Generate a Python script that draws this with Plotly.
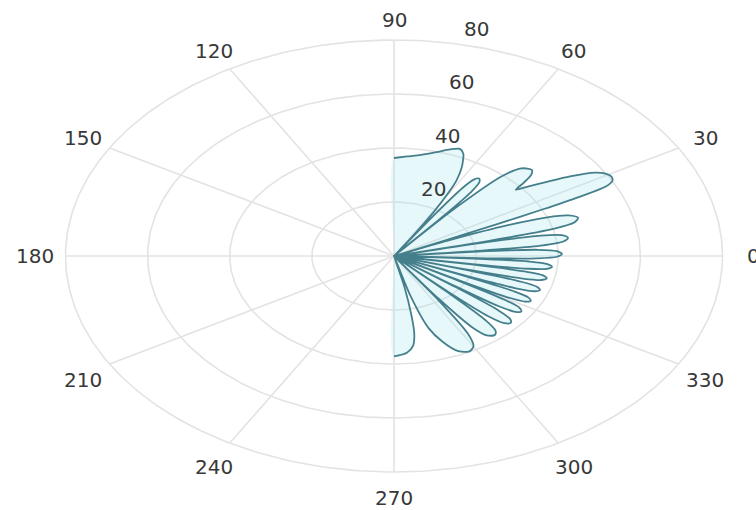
import numpy as np
import plotly.graph_objects as go

# Radiation pattern samples: angle in degrees, magnitude on the radial scale
pattern_deg = [
    90, 85, 80, 75, 71, 68, 66, 64.5, 63.2, 61.5, 60.5, 59.3, 58.3, 57.5,
    57.24, 56.51, 55.52, 54.2, 52.72, 51.61, 50.8, 50.5,
    49.94, 48.4, 46.3, 43.5, 42.0, 40.6, 39.6,
    38.3, 36.5, 34.5, 32.3, 30.5, 29.0, 27.6, 26.5, 25.9, 25.5, 25.2, 24.9, 24.5,
    23.5, 22.4, 21.0, 19.5, 17.5, 15.78, 14.49, 13.54, 13.2,
    12.86, 11.94, 10.68, 9.0, 7.4, 6.2, 5.32, 5.0,
    4.68, 3.8, 2.6, 1.0, -0.4, -1.45, -2.22, -2.5,
    -2.78, -3.55, -4.6, -6.0, -7.28, -8.24, -8.94, -9.2,
    -9.46, -10.19, -11.18, -12.5, -13.9, -14.95, -15.72, -16.0,
    -16.28, -17.05, -18.1, -19.5, -20.9, -21.95, -22.72, -23.0,
    -23.28, -24.05, -25.1, -26.5, -27.9, -28.95, -29.72, -30.0,
    -30.28, -31.05, -32.1, -33.5, -34.98, -36.09, -36.9, -37.2,
    -37.5, -38.34, -39.48, -41.0, -42.8, -44.15, -45.14, -45.5,
    -45.86, -46.85, -48.2, -50.0, -52.4, -54.2, -55.52, -56.0,
    -56.52, -57.95, -59.9, -62.5, -66.0, -69.5, -72.5, -74.8, -76.0,
    -77.5, -79.0, -80.2, -82.0, -85.0, -90.0,
]
pattern_r = [
    36.3, 37.0, 38.0, 39.8, 41.8, 42.8, 41.5, 39.0, 36.5, 32.0, 27.0, 19.0, 9.0, 0,
    17.7, 30.1, 34.3, 35.4, 34.3, 30.1, 17.7, 0,
    23.2, 39.4, 44.9, 46.3, 45.0, 41.5, 38.5,
    41.5, 46.0, 52.0, 57.8, 60.0, 60.6, 60.0, 57.5, 50.0, 40.0, 28.0, 14.0, 0,
    15.0, 30.0, 40.0, 45.0, 47.0, 45.6, 40.0, 23.5, 0,
    21.5, 36.5, 41.6, 42.9, 41.6, 36.5, 21.5, 0,
    20.5, 34.8, 39.7, 40.9, 39.7, 34.8, 20.5, 0,
    19.4, 32.9, 37.5, 38.7, 37.5, 32.9, 19.4, 0,
    19.1, 32.4, 37.0, 38.1, 37.0, 32.4, 19.1, 0,
    18.9, 32.0, 36.6, 37.7, 36.6, 32.0, 18.9, 0,
    18.6, 31.6, 36.1, 37.2, 36.1, 31.6, 18.6, 0,
    18.6, 31.6, 36.1, 37.2, 36.1, 31.6, 18.6, 0,
    18.9, 32.0, 36.6, 37.7, 36.6, 32.0, 18.9, 0,
    19.1, 32.5, 37.1, 38.2, 37.1, 32.5, 19.1, 0,
    19.9, 33.8, 38.6, 39.8, 38.6, 34.0, 28.0, 15.0, 0,
    12.0, 22.0, 29.0, 33.5, 36.0, 37.2,
]

radial_ticks = [20, 40, 60, 80]
angle_ticks = list(range(0, 360, 30))
angle_labels = [str(a) for a in angle_ticks]

R_MAX = radial_ticks[-1]
LABEL_R = 87.5
RTICK_ANGLE = 80

GRID = "#e3e3e3"
TEXT = "#383838"
LINE = "#457f8c"
FONT = dict(family="DejaVu Sans", size=20, color=TEXT)


def to_xy(deg, r):
    t = np.radians(np.asarray(deg, dtype=float))
    r = np.asarray(r, dtype=float)
    return r * np.cos(t), r * np.sin(t)


fig = go.Figure()

# polar grid: rings and spokes
ring_t = np.linspace(0, 360, 361)
for rv in radial_ticks:
    gx, gy = to_xy(ring_t, np.full_like(ring_t, rv))
    fig.add_trace(go.Scatter(x=gx, y=gy, mode="lines",
                             line=dict(color=GRID, width=1.6),
                             hoverinfo="skip", showlegend=False))
for a in angle_ticks:
    sx, sy = to_xy([a, a], [0, R_MAX])
    fig.add_trace(go.Scatter(x=sx, y=sy, mode="lines",
                             line=dict(color=GRID, width=1.6),
                             hoverinfo="skip", showlegend=False))

# pattern curve: faint tint inside the lobes, closed through the origin
px, py = to_xy(pattern_deg, pattern_r)
fig.add_trace(go.Scatter(x=np.r_[0.0, px, 0.0], y=np.r_[0.0, py, 0.0], mode="lines",
                         line=dict(color="rgba(0,0,0,0)", width=0, shape="spline", smoothing=0.8),
                         fill="toself", fillcolor="rgba(170,230,242,0.28)",
                         hoverinfo="skip", showlegend=False))
fig.add_trace(go.Scatter(x=px, y=py, mode="lines",
                         line=dict(color=LINE, width=1.8, shape="spline", smoothing=0.8),
                         showlegend=False))

# angle labels around the outer ring
for a, lab in zip(angle_ticks, angle_labels):
    lx, ly = to_xy([a], [LABEL_R])
    fig.add_annotation(x=float(lx[0]), y=float(ly[0]), text=lab, showarrow=False,
                       font=FONT, xanchor="center", yanchor="middle",
                       yshift=-6 if 180 < a < 360 else 0)

# radial tick labels along the 80 degree direction
for rv in radial_ticks:
    lx, ly = to_xy([RTICK_ANGLE], [rv])
    fig.add_annotation(x=float(lx[0]), y=float(ly[0]), text=str(rv), showarrow=False,
                       font=FONT, xanchor="center", yanchor="middle",
                       xshift=25, yshift=14)

# pixel-to-data mapping: centre at (394, 256), 4.106 px/unit across, 2.7 px/unit down
W, H = 756, 510
CX, CY, SX, SY = 394, 256, 4.106, 2.7
fig.update_layout(
    width=W, height=H,
    margin=dict(l=0, r=0, t=0, b=0),
    paper_bgcolor="white", plot_bgcolor="white",
    xaxis=dict(range=[-CX / SX, (W - CX) / SX], visible=False, fixedrange=True),
    yaxis=dict(range=[-(H - CY) / SY, CY / SY], visible=False, fixedrange=True),
    showlegend=False,
)

fig.write_html("out.html")
